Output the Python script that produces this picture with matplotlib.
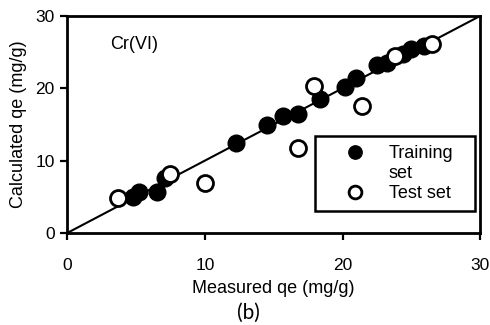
import matplotlib.pyplot as plt
from matplotlib.lines import Line2D

plt.rcParams['font.family'] = ['Liberation Sans', 'DejaVu Sans']

# training set (measured, calculated)
train_meas = [4.8, 5.2, 6.5, 7.1, 12.3, 14.5, 15.7, 16.8, 18.4, 20.2, 21.0, 22.5, 23.2, 24.4, 25.0, 25.9]
train_calc = [5.0, 5.6, 5.6, 7.6, 12.5, 14.9, 16.2, 16.5, 18.5, 20.2, 21.4, 23.2, 23.5, 24.8, 25.4, 25.9]

# test set
test_meas = [3.7, 7.5, 10.0, 16.8, 17.9, 21.4, 23.8, 26.5]
test_calc = [4.9, 8.1, 6.9, 11.7, 20.3, 17.6, 24.4, 26.1]

ticks = [0, 10, 20, 30]

fig = plt.figure(figsize=(4.9, 3.25), dpi=100)
ax = fig.add_axes([0.137, 0.283, 0.843, 0.668])

ax.plot([0, 30], [0, 30], color='black', linewidth=1.5, zorder=1)
tr, = ax.plot(train_meas, train_calc, 'o', color='black', markersize=12, zorder=2)
te, = ax.plot(test_meas, test_calc, 'o', markerfacecolor='white', markeredgecolor='black',
              markeredgewidth=2, markersize=11.5, zorder=3)

ax.set_xlim(0, 30)
ax.set_ylim(0, 30)
ax.set_xticks(ticks)
ax.set_yticks(ticks)
ax.tick_params(direction='out', length=5, width=1.6, labelsize=12.5)
ax.tick_params(axis='x', pad=13)
ax.tick_params(axis='y', pad=4)
for s in ax.spines.values():
    s.set_linewidth(2)

ax.set_xlabel('Measured qe (mg/g)', fontsize=13, labelpad=5)
ax.set_ylabel('Calculated qe (mg/g)', fontsize=13, labelpad=6)
ax.text(0.103, 0.87, 'Cr(VI)', transform=ax.transAxes, fontsize=13, va='center')
fig.text(0.507, 0.018, '(b)', fontsize=15, ha='center', family='Lato')

# "set" as its own row so the marker sits on the "Training" line
blank = Line2D([], [], linestyle='none')
leg = ax.legend(handles=[tr, blank, te], labels=['Training', 'set', 'Test set'],
                loc='upper left', bbox_to_anchor=(0.60, 0.0925, 0.387, 0.355),
                mode='expand', borderaxespad=0, fancybox=False, framealpha=1,
                fontsize=13, handlelength=3.4, handletextpad=0.2, borderpad=0.5,
                labelspacing=0.17, markerscale=0.8)
leg.get_frame().set_edgecolor('black')
leg.get_frame().set_linewidth(1.8)

fig.savefig('out.png', dpi=100)
